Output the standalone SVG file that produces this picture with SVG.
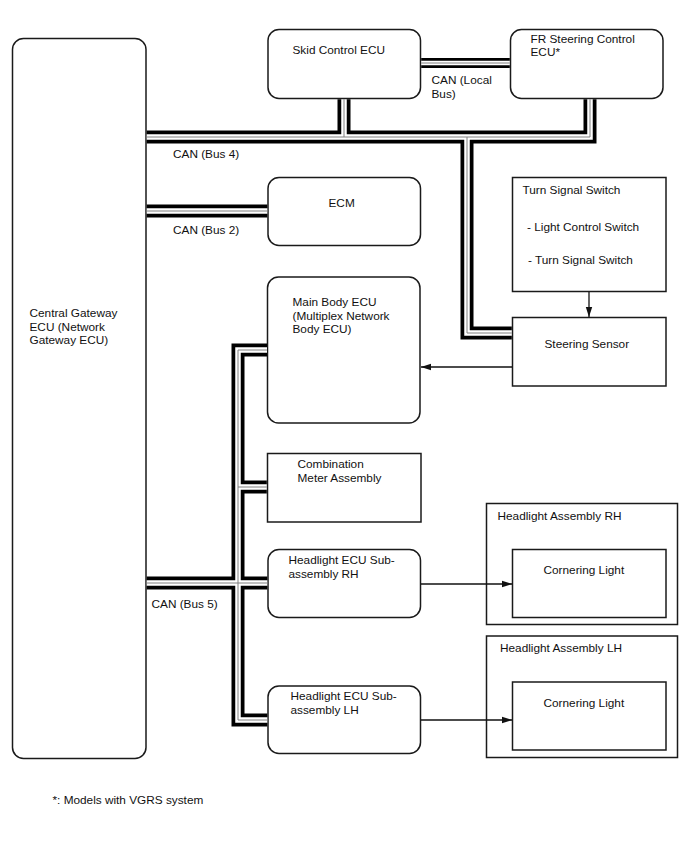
<svg xmlns="http://www.w3.org/2000/svg" width="688" height="852" viewBox="0 0 688 852">
<defs>
<style>
text{font-family:"Liberation Sans",Arial,sans-serif;font-size:11.8px;fill:#111}
.box{fill:#fff;stroke:#1a1a1a;stroke-width:1.5}
.b1{fill:none;stroke:#000;stroke-width:13}
.b2{fill:none;stroke:#fff;stroke-width:5.5}
.b3{fill:none;stroke:#808080;stroke-width:1}
.a{fill:none;stroke:#111;stroke-width:1.3}
</style>
<marker id="ah" markerWidth="10" markerHeight="8" refX="10" refY="4" orient="auto" markerUnits="userSpaceOnUse">
<path d="M0,0.8 L10,4 L0,7.2 Z" fill="#111"/>
</marker>
</defs>
<rect width="688" height="852" fill="#fff"/>

<g id="central-gateway">
<rect class="box" x="12.5" y="38.5" width="133.5" height="720" rx="11"/>
<text x="29.5" y="317">Central Gateway</text>
<text x="29.5" y="330.5">ECU (Network</text>
<text x="29.5" y="344">Gateway ECU)</text>
</g>

<g id="skid-control">
<rect class="box" x="268" y="29.5" width="152.5" height="69" rx="11"/>
<text x="292.5" y="53.5">Skid Control ECU</text>
</g>

<g id="fr-steering">
<rect class="box" x="510.5" y="29.5" width="152.5" height="69" rx="11"/>
<text x="530.5" y="43">FR Steering Control</text>
<text x="530.5" y="56">ECU*</text>
</g>

<g id="ecm">
<rect class="box" x="268" y="177.5" width="152.5" height="68" rx="11"/>
<text x="328.5" y="206.5">ECM</text>
</g>

<g id="turn-signal-switch">
<rect class="box" x="512.5" y="177.5" width="153.5" height="114"/>
<text x="522.5" y="194">Turn Signal Switch</text>
<text x="527" y="230.5">- Light Control Switch</text>
<text x="528" y="264">- Turn Signal Switch</text>
</g>

<g id="steering-sensor">
<rect class="box" x="512.5" y="317.5" width="153.5" height="68.5"/>
<text x="544.5" y="347.5">Steering Sensor</text>
</g>

<g id="main-body-ecu">
<rect class="box" x="267.5" y="277" width="152.5" height="146" rx="11"/>
<text x="292.5" y="306">Main Body ECU</text>
<text x="292.5" y="319.5">(Multiplex Network</text>
<text x="292.5" y="333">Body ECU)</text>
</g>

<g id="combination-meter">
<rect class="box" x="267.5" y="453.5" width="153.5" height="68.5"/>
<text x="297.5" y="467.5">Combination</text>
<text x="297.5" y="481.5">Meter Assembly</text>
</g>

<g id="headlight-ecu-rh">
<rect class="box" x="268" y="549.5" width="152.5" height="68" rx="11"/>
<text x="288.5" y="563.5">Headlight ECU Sub-</text>
<text x="288.5" y="577.5">assembly RH</text>
</g>

<g id="headlight-ecu-lh">
<rect class="box" x="268" y="686" width="152.5" height="67.5" rx="11"/>
<text x="290.5" y="699.5">Headlight ECU Sub-</text>
<text x="290.5" y="713.5">assembly LH</text>
</g>

<g id="headlight-assembly-rh">
<rect class="box" x="486.5" y="503.5" width="191" height="121"/>
<text x="497.5" y="519.5">Headlight Assembly RH</text>
</g>

<g id="cornering-light-rh">
<rect class="box" x="512.5" y="549.5" width="153.5" height="68"/>
<text x="543.5" y="574">Cornering Light</text>
</g>

<g id="headlight-assembly-lh">
<rect class="box" x="486.5" y="636" width="191" height="121.5"/>
<text x="500" y="652">Headlight Assembly LH</text>
</g>

<g id="cornering-light-lh">
<rect class="box" x="512.5" y="682" width="153.5" height="68"/>
<text x="543.5" y="707">Cornering Light</text>
</g>

<g id="connectors">
<g id="can-buses">
<path class="b1" d="M146.7,137 H590 V99.2 M344,137 V99.2 M467,137 V333 H511.8 M146.7,211 H267.3 M146.7,583 H267.3 M267,350 H238 V720 H267.3 M238,487 H266.8"/>
<path class="b1" style="stroke-width:10" d="M421.2,63 H509.8"/>
<path class="b2" d="M146.7,137 H590 V99.2 M344,137 V99.2 M467,137 V333 H511.8 M146.7,211 H267.3 M146.7,583 H267.3 M267,350 H238 V720 H267.3 M238,487 H266.8"/>
<path class="b2" style="stroke-width:4.5" d="M421.2,63 H509.8"/>
<path class="b3" d="M146.7,137 H590 V99.2 M344,137 V99.2 M467,137 V333 H511.8 M146.7,211 H267.3 M146.7,583 H267.3 M267,350 H238 V720 H267.3 M238,487 H266.8 M421.2,63 H509.8"/>
</g>
<path class="a" d="M589,292 V317" marker-end="url(#ah)"/>
<path class="a" d="M512,367 H421" marker-end="url(#ah)"/>
<path class="a" d="M421,584 H512" marker-end="url(#ah)"/>
<path class="a" d="M421,720 H512" marker-end="url(#ah)"/>
<text x="173" y="158">CAN (Bus 4)</text>
<text x="173" y="234">CAN (Bus 2)</text>
<text x="151.5" y="608">CAN (Bus 5)</text>
<text x="431.5" y="84">CAN (Local</text>
<text x="431.5" y="97.5">Bus)</text>
</g>

<g id="footnote">
<text x="52.5" y="804">*: Models with VGRS system</text>
</g>
</svg>
